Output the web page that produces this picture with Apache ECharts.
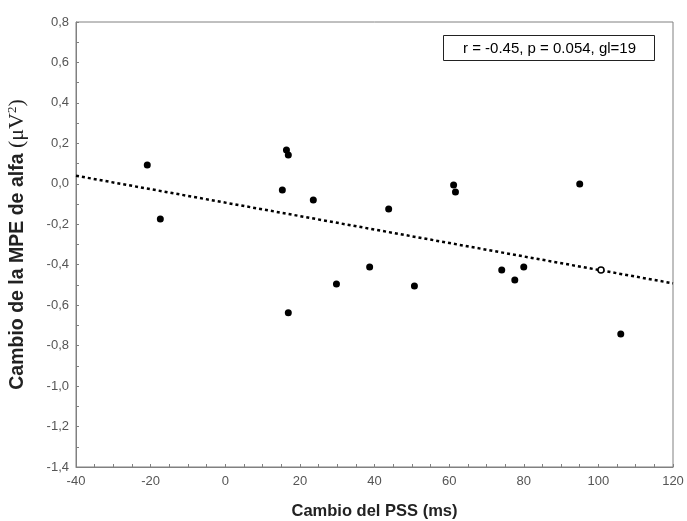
<!DOCTYPE html>
<html>
<head>
<meta charset="utf-8">
<script src="https://cdn.jsdelivr.net/npm/echarts@6/dist/echarts.min.js"></script>
<style>html,body{margin:0;padding:0;background:#fff}#c{width:687px;height:521px}</style>
</head>
<body>
<div id="c"></div>
<script>
// Filled data points: change in PSS (ms) vs change in alpha MPE (µV²)
var pssX = [-20.9, -17.4, 15.3, 16.4, 16.9, 16.9, 23.6, 29.8, 38.7, 43.8, 50.7, 61.2, 61.7, 74.1, 77.6, 80.0, 95.0, 106.0];
var mpeY = [0.093, -0.174, -0.03, 0.167, 0.143, -0.638, -0.08, -0.495, -0.411, -0.124, -0.505, -0.006, -0.04, -0.426, -0.475, -0.411, -0.001, -0.742];
// Open (hollow) point
var openX = [100.7];
var openY = [-0.426];
// Regression line endpoints
var fitX = [-40, 120];
var fitY = [0.04, -0.492];
var annotation = 'r = -0.45, p = 0.054, gl=19';

var pts = pssX.map(function(x, i){ return [x, mpeY[i]]; });
var openPts = openX.map(function(x, i){ return [x, openY[i]]; });
var fitPts = fitX.map(function(x, i){ return [x, fitY[i]]; });

var chart = echarts.init(document.getElementById('c'));
var axisGray = '#808080';
chart.setOption({
  animation: false,
  backgroundColor: '#fff',
  grid: { left: 76, right: 14, top: 22, bottom: 54, show: true, borderColor: axisGray, borderWidth: 1,
          containLabel: false, outerBoundsMode: 'none' },
  xAxis: {
    type: 'value', min: -40, max: 120, interval: 20,
    axisLine: { show: true, onZero: false, lineStyle: { color: axisGray } },
    axisTick: { show: true, inside: true, length: 3, lineStyle: { color: axisGray } },
    minorTick: { show: true, splitNumber: 4, length: 3, lineStyle: { color: axisGray } },
    splitLine: { show: false },
    axisLabel: { color: '#555', fontFamily: 'Liberation Sans, Arial', fontSize: 13, margin: 8 },
    name: 'Cambio del PSS (ms)', nameLocation: 'middle', nameGap: 36,
    nameTextStyle: { color: '#222', fontFamily: 'Liberation Sans, Arial', fontSize: 16.5, fontWeight: 'bold' }
  },
  yAxis: {
    type: 'value', min: -1.4, max: 0.8, interval: 0.2,
    axisLine: { show: true, onZero: false, lineStyle: { color: axisGray } },
    axisTick: { show: true, inside: true, length: 3, lineStyle: { color: axisGray } },
    minorTick: { show: true, splitNumber: 2, length: 3, lineStyle: { color: axisGray } },
    splitLine: { show: false },
    axisLabel: { color: '#555', fontFamily: 'Liberation Sans, Arial', fontSize: 13, margin: 7,
      formatter: function(v){ return v.toFixed(1).replace('.', ','); } },
    name: '{b|Cambio de la MPE de alfa }{s|(μV}{sup|2}{s|)}', nameLocation: 'middle', nameGap: 47,
    nameTextStyle: {
      rich: {
        b: { color: '#222', fontFamily: 'Liberation Sans, Arial', fontSize: 19.5, fontWeight: 'bold' },
        s: { color: '#222', fontFamily: 'Liberation Serif, Times New Roman', fontSize: 22 },
        sup: { color: '#222', fontFamily: 'Liberation Serif, Times New Roman', fontSize: 13, verticalAlign: 'top', padding: [0,0,10,0] }
      }
    }
  },
  graphic: [{
    type: 'group', left: 443, top: 35,
    children: [
      { type: 'rect', shape: { x: 0, y: 0, width: 211, height: 25 }, style: { fill: '#fff', stroke: '#222', lineWidth: 1 } },
      { type: 'text', x: 106, y: 13, style: { text: annotation, fill: '#000', font: '15px "Liberation Sans", Arial', textAlign: 'center', textVerticalAlign: 'middle' } }
    ]
  }],
  series: [
    { type: 'line', data: fitPts, symbol: 'none', silent: true,
      lineStyle: { color: '#000', width: 2.5, type: [3, 3] }, z: 2 },
    { type: 'scatter', data: pts, symbol: 'circle', symbolSize: 7,
      itemStyle: { color: '#000', opacity: 1 }, z: 3 },
    { type: 'scatter', data: openPts, symbol: 'circle', symbolSize: 6,
      itemStyle: { color: '#fff', borderColor: '#000', borderWidth: 1.5, opacity: 1 }, z: 4 }
  ]
});
</script>
</body>
</html>
